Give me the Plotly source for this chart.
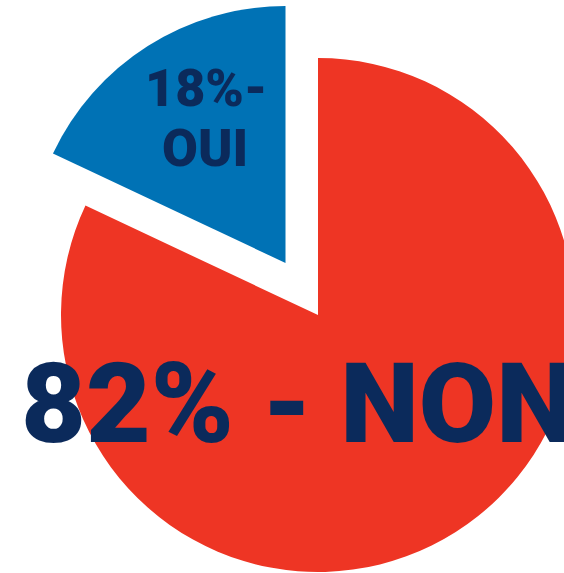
import plotly.graph_objects as go

labels = ["NON", "OUI"]
values = [82, 18]
colors = ["#EE3524", "#0072B5"]
text_color = "#0B2A5B"

W, H = 600, 600

def px_x(x):
    return x / W

def px_y(y):
    return 1 - y / H

def dom(cx, cy, half):
    return dict(x=[px_x(cx - half), px_x(cx + half)], y=[px_y(cy + half), px_y(cy - half)])

R = 257
fig = go.Figure()
# main pie (NON slice visible)
fig.add_trace(go.Pie(
    labels=labels, values=values, sort=False, direction="clockwise", rotation=0,
    marker=dict(colors=[colors[0], "rgba(0,0,0,0)"], line=dict(width=0)),
    textinfo="none", hoverinfo="label+percent", showlegend=False,
    domain=dom(318, 315, R),
))
# exploded slice (OUI)
fig.add_trace(go.Pie(
    labels=labels, values=values, sort=False, direction="clockwise", rotation=0,
    marker=dict(colors=["rgba(0,0,0,0)", colors[1]], line=dict(width=0)),
    textinfo="none", hoverinfo="label+percent", showlegend=False,
    domain=dom(285.5, 263, R),
))

font_family = "Roboto"
fig.add_annotation(text=f"{values[0]}% - {labels[0]}", x=px_x(19), y=px_y(403), xref="paper", yref="paper",
                   xanchor="left", yanchor="middle", showarrow=False,
                   font=dict(family=font_family, size=112, color=text_color, weight=900))
fig.add_annotation(text=f"{values[1]}%-", x=px_x(206), y=px_y(88.5), xref="paper", yref="paper",
                   xanchor="center", yanchor="middle", showarrow=False,
                   font=dict(family=font_family, size=52, color=text_color, weight=900))
fig.add_annotation(text=labels[1], x=px_x(205), y=px_y(148.5), xref="paper", yref="paper",
                   xanchor="center", yanchor="middle", showarrow=False,
                   font=dict(family=font_family, size=52, color=text_color, weight=900))

fig.update_layout(width=W, height=H, margin=dict(l=0, r=0, t=0, b=0),
                  paper_bgcolor="white", plot_bgcolor="white")

fig.write_html("out.html", post_script=(
    "document.documentElement.style.overflow='hidden';"
    "document.body.style.overflow='hidden';document.body.style.margin='0';"
))
